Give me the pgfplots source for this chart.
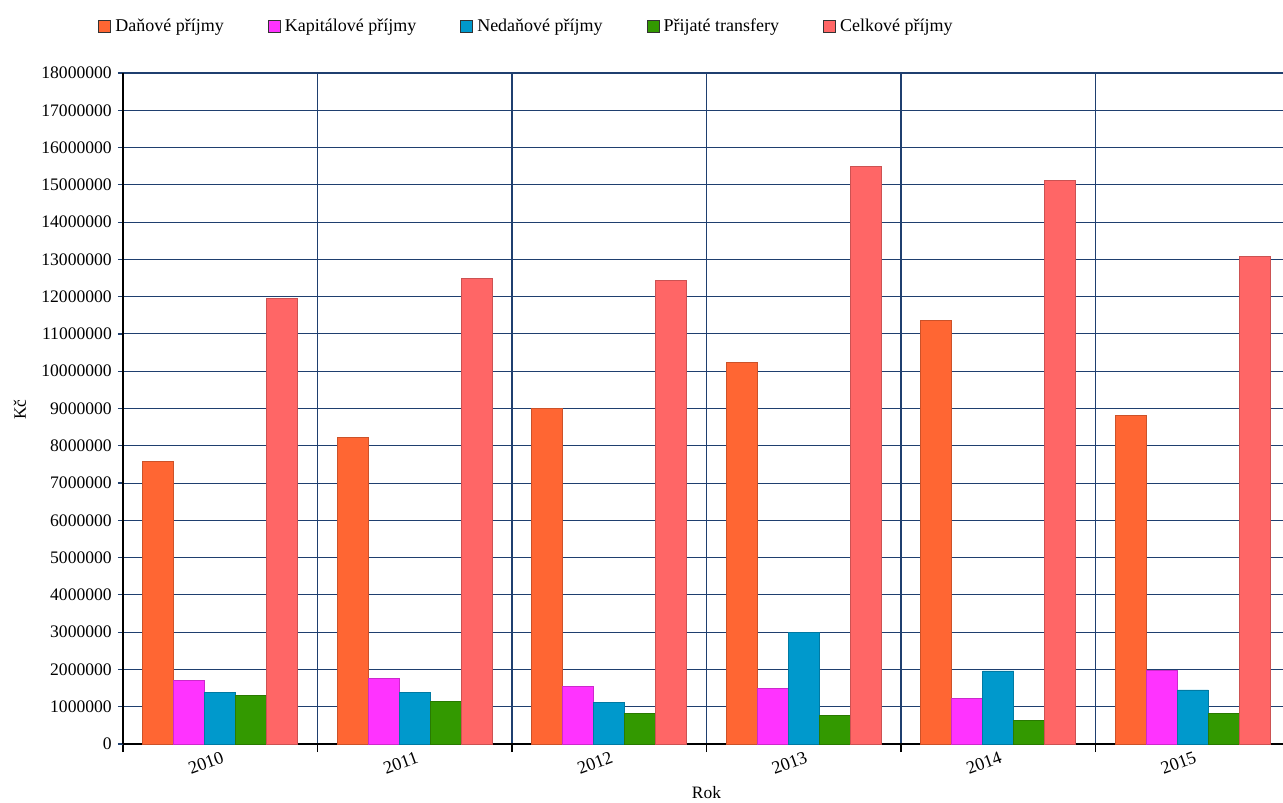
\documentclass[border=0pt]{standalone}
\usepackage{pgfplots}
\pgfplotsset{compat=1.18}
\usepackage{fontspec}
\setmainfont{Liberation Serif}
\definecolor{cDan}{HTML}{FF6633}
\definecolor{cKap}{HTML}{FF33FF}
\definecolor{cNed}{HTML}{0099CC}
\definecolor{cPri}{HTML}{339900}
\definecolor{cCel}{HTML}{FF6666}
\definecolor{gridc}{HTML}{1F3F6F}
\begin{document}
\fontsize{8.7}{10}\selectfont
\begin{tikzpicture}
\begin{axis}[
  at={(0,0)}, anchor=south west,
  scale only axis,
  width=580pt, height=335.5pt,
  ybar=0pt, bar width=15.5pt,
  xmin=-0.5, xmax=5.464,
  ymin=0, ymax=18000000,
  ytick={0,1000000,...,18000000},
  scaled y ticks=false,
  yticklabel style={/pgf/number format/fixed,/pgf/number format/1000 sep={},/pgf/number format/assume math mode=true, font=\fontsize{8.8}{10}\selectfont},
  xtick={0,1,2,3,4,5},
  xticklabels={2010,2011,2012,2013,2014,2015},
  xticklabel style={rotate=20, anchor=north east, font=\fontsize{9}{10}\selectfont, xshift=3pt, yshift=2pt},
  major x tick style={draw=none},
  minor xtick={-0.5,0.5,1.5,2.5,3.5,4.5},
  minor x tick style={black, line width=0.7pt},
  minor tick length=4pt,
  major tick length=2.5pt,
  tick align=outside,
  ymajorgrids, xminorgrids,
  major grid style={gridc, line width=0.55pt},
  minor grid style={gridc, line width=0.55pt},
  axis x line*=bottom, axis y line*=left,
  axis line style={black, line width=1pt, -},
  y tick style={gridc, line width=0.6pt},
  xlabel={Rok},
  xlabel style={at={(axis description cs:0.503,0)}, anchor=center, yshift=-24.5pt, font=\fontsize{8.7}{10}\selectfont},
  ylabel={Kč},
  ylabel style={at={(axis description cs:-0.0888,0.498)}, anchor=center, font=\fontsize{8.7}{10}\selectfont},
  legend columns=5,
  legend style={at={(axis description cs:-0.0268,1.069)}, anchor=west, draw=none, fill=none,
    font=\fontsize{9}{10}\selectfont,
    /tikz/every even column/.append style={column sep=20pt}},
  legend image code/.code={\draw[#1, draw=black!80, line width=0.5pt] (0pt,-3pt) rectangle (6pt,3pt);},
]
\addplot[fill=cDan, draw=cDan!80!black, line width=0.4pt] coordinates {(0,7590000) (1,8230000) (2,8990000) (3,10240000) (4,11360000) (5,8810000)};
\addplot[fill=cKap, draw=cKap!80!black, line width=0.4pt] coordinates {(0,1700000) (1,1760000) (2,1540000) (3,1500000) (4,1215000) (5,1985000)};
\addplot[fill=cNed, draw=cNed!80!black, line width=0.4pt] coordinates {(0,1376000) (1,1376000) (2,1120000) (3,3000000) (4,1960000) (5,1450000)};
\addplot[fill=cPri, draw=cPri!80!black, line width=0.4pt] coordinates {(0,1310000) (1,1150000) (2,820000) (3,770000) (4,640000) (5,830000)};
\addplot[fill=cCel, draw=cCel!80!black, line width=0.4pt] coordinates {(0,11940000) (1,12500000) (2,12440000) (3,15500000) (4,15110000) (5,13070000)};
\legend{Daňové příjmy, Kapitálové příjmy, Nedaňové příjmy, Přijaté transfery, Celkové příjmy}
\end{axis}
\pgfresetboundingbox
\useasboundingbox (-61.5pt,-29pt) rectangle (580pt,372pt);
\end{tikzpicture}
\end{document}
